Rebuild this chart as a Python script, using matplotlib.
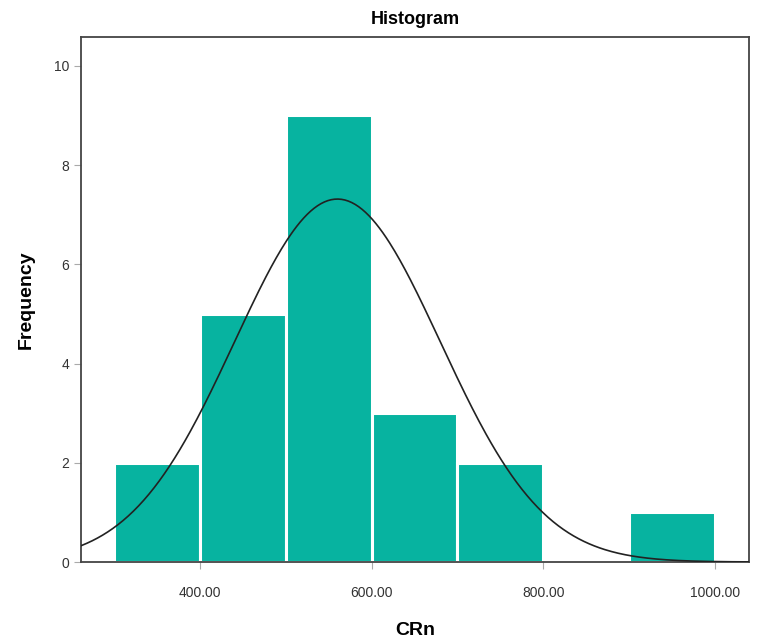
import numpy as np
import matplotlib
matplotlib.use('Agg')
import matplotlib.pyplot as plt

# histogram data
bin_left = [300, 400, 500, 600, 700, 800, 900]
counts = [2, 5, 9, 3, 2, 0, 1]
bin_width = 100

# fitted normal curve (SPSS style)
mean = 560.0
sd = 120.0
n = sum(counts)

xticks = [400, 600, 800, 1000]
xticklabels = ['400.00', '600.00', '800.00', '1000.00']
yticks = [0, 2, 4, 6, 8, 10]

plt.rcParams['font.family'] = ['Liberation Sans', 'DejaVu Sans']

fig = plt.figure(figsize=(7.62, 6.42), dpi=100)
ax = fig.add_axes([0.1063, 0.1246, 0.8767, 0.8178])

ax.bar(bin_left, counts, width=bin_width, align='edge',
       color='#07B3A0', edgecolor='white', linewidth=2.2, zorder=2)

xs = np.linspace(250, 1050, 400)
ys = n * bin_width / (sd * np.sqrt(2 * np.pi)) * np.exp(-(xs - mean) ** 2 / (2 * sd ** 2))
ax.plot(xs, ys, color='#222222', linewidth=1.2, zorder=3)

ax.set_xlim(261, 1040)
ax.set_ylim(0, 10.58)

ax.set_xticks(xticks)
ax.set_xticklabels(xticklabels)
ax.set_yticks(yticks)
ax.tick_params(axis='both', colors='#aaaaaa', length=5, width=0.8,
               labelcolor='#333333', labelsize=10)
ax.tick_params(axis='x', pad=12)

for s in ax.spines.values():
    s.set_color('#444444')
    s.set_linewidth(1.3)

ax.set_title('Histogram', fontsize=13, fontweight='bold', pad=9)
ax.set_xlabel('CRn', fontsize=14, fontweight='bold', labelpad=16)
ax.set_ylabel('Frequency', fontsize=14, fontweight='bold', labelpad=14)

plt.savefig('out.png', dpi=100)
plt.close()
